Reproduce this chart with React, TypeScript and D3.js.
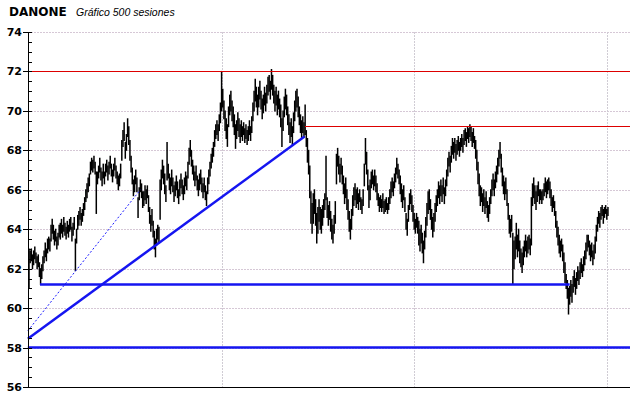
import React, { useEffect, useRef } from 'react';
import * as d3 from 'd3';

// daily lows / highs, 500 sessions
const lows: number[] = [
  61.0, 62.3, 62.4, 62.0, 62.2, 62.5, 62.3, 62.0, 62.1, 61.6,
  61.2, 61.5, 61.9, 62.3, 62.6, 62.4, 62.8, 63.0, 62.9, 63.4,
  63.8, 63.5, 63.2, 63.4, 63.0, 63.2, 63.6, 63.5, 63.8, 63.6,
  63.9, 63.7, 63.5, 63.8, 63.6, 63.9, 64.0, 63.4, 63.7, 64.0,
  61.9, 63.3, 64.0, 64.2, 64.5, 64.2, 64.4, 64.7, 65.0, 65.4,
  65.6, 65.9, 66.2, 66.8, 67.0, 66.9, 67.1, 66.8, 64.8, 66.3,
  66.6, 66.9, 66.5, 66.2, 66.6, 66.3, 66.7, 66.9, 66.5, 66.8,
  67.1, 66.7, 66.4, 66.7, 67.0, 66.6, 66.3, 66.0, 66.2, 66.6,
  67.5, 68.2, 68.5, 67.6, 68.0, 68.7, 68.3, 67.5, 66.9, 66.3,
  65.7, 65.9, 66.3, 65.9, 64.6, 65.5, 65.9, 65.6, 65.1, 65.2,
  65.5, 65.3, 65.6, 64.9, 64.3, 63.9, 64.2, 63.6, 63.0, 62.6,
  63.2, 63.5, 63.3, 64.5, 66.0, 66.6, 66.3, 65.8, 65.4, 66.5,
  66.6, 66.0, 65.8, 66.2, 65.9, 65.4, 65.7, 66.0, 65.6, 65.3,
  65.7, 66.1, 65.8, 65.5, 65.8, 66.2, 66.0, 66.6, 67.3, 67.7,
  67.2, 66.8, 66.5, 66.2, 66.5, 66.0, 65.7, 66.0, 66.3, 65.9,
  65.6, 65.9, 65.5, 65.2, 65.8, 66.3, 66.7, 67.1, 67.4, 67.7,
  68.2, 68.6, 68.8, 68.5, 69.0, 69.4, 70.0, 70.2, 69.6, 69.0,
  68.6, 68.2, 69.2, 69.8, 70.0, 69.5, 69.2, 68.8, 68.1, 68.6,
  69.0, 68.7, 68.4, 68.7, 68.5, 68.8, 68.4, 68.6, 68.3, 68.5,
  68.8, 68.5, 68.9, 69.5, 70.0, 70.5, 70.2, 69.8, 70.2, 70.6,
  70.1, 69.6, 69.9, 70.3, 70.0, 70.4, 70.8, 71.0, 70.6, 71.1,
  70.8, 70.4, 70.0, 70.3, 69.8, 70.1, 69.7, 69.2, 68.2, 69.0,
  69.7, 70.1, 69.8, 69.3, 68.8, 68.4, 68.7, 68.3, 68.9, 69.5,
  70.0, 70.2, 69.7, 69.3, 68.9, 68.6, 68.9, 68.7, 68.8, 68.2,
  67.4, 66.8, 65.6, 64.3, 63.8, 64.3, 64.8, 64.2, 63.3, 63.8,
  64.4, 64.0, 63.8, 64.2, 64.6, 65.0, 65.5, 64.6, 64.2, 64.5,
  63.9, 63.5, 63.3, 63.8, 64.3, 66.3, 67.2, 66.8, 66.4, 66.8,
  66.3, 65.8, 65.3, 65.6, 65.0, 64.5, 63.9, 63.5, 64.0, 64.7,
  65.2, 65.5, 65.1, 65.3, 65.0, 65.4, 65.0, 64.8, 65.2, 66.2,
  67.3, 66.8, 66.0, 65.1, 65.5, 66.1, 66.3, 66.0, 66.2, 65.9,
  65.5, 65.2, 64.9, 65.1, 64.9, 65.1, 64.8, 64.9, 65.0, 64.8,
  65.0, 65.3, 65.6, 65.9, 65.7, 66.1, 66.4, 66.8, 66.6, 66.3,
  65.8, 65.4, 65.1, 65.5, 64.9, 64.0, 63.7, 64.4, 65.0, 65.3,
  64.9, 64.4, 64.0, 63.8, 64.1, 63.8, 63.2, 62.9, 63.3, 62.8,
  62.3, 63.0, 63.6, 64.2, 64.8, 65.0, 64.5, 64.0, 63.6, 63.9,
  64.4, 64.9, 65.2, 65.6, 65.3, 65.7, 65.4, 65.8, 65.3, 65.7,
  66.2, 66.7, 67.2, 66.9, 67.4, 67.8, 67.6, 67.9, 67.5, 67.8,
  68.0, 67.7, 68.0, 68.2, 67.9, 68.3, 68.5, 68.2, 68.6, 68.4,
  68.7, 68.5, 68.2, 68.4, 68.1, 67.6, 67.0, 66.3, 65.7, 65.2,
  65.4, 64.9, 65.2, 64.8, 65.1, 64.6, 64.4, 64.8, 65.3, 65.7,
  66.0, 65.7, 66.1, 66.4, 66.8, 67.2, 67.6, 66.9, 66.2, 65.8,
  65.5, 65.8, 65.2, 64.5, 63.8, 63.6, 63.9, 61.2, 62.0, 62.5,
  63.0, 62.6, 62.9, 62.3, 62.1, 61.8, 62.2, 62.6, 62.9, 62.6,
  62.8, 63.0, 62.7, 63.2, 65.2, 65.6, 65.3, 65.0, 65.4, 65.7,
  65.3, 65.5, 65.3, 65.5, 65.7, 65.9, 65.6, 65.8, 66.0, 65.6,
  65.2, 64.9, 65.1, 64.7, 64.1, 63.6, 63.2, 62.8, 62.6, 62.9,
  62.4, 61.8, 61.3, 61.0, 60.5, 59.7, 60.2, 60.6, 60.3, 60.8,
  61.1, 60.7, 61.0, 61.4, 61.2, 61.5, 61.8, 61.6, 61.9, 62.2,
  62.5, 62.9, 63.1, 62.7, 62.4, 62.6, 62.2, 62.5, 62.8, 63.4,
  63.9, 64.3, 64.1, 64.5, 64.7, 64.3, 64.6, 64.8, 64.5, 64.7,
];

const highs: number[] = [
  63.0, 62.9, 63.0, 62.7, 62.9, 63.1, 62.8, 62.6, 62.7, 62.3,
  62.0, 62.2, 62.6, 62.9, 63.3, 63.0, 63.5, 63.6, 63.5, 64.2,
  64.5, 64.2, 63.9, 64.0, 63.6, 63.8, 64.2, 64.3, 64.5, 64.2,
  64.6, 64.3, 64.1, 64.4, 64.2, 64.5, 64.6, 64.1, 64.3, 64.6,
  63.5, 64.0, 64.7, 64.9, 65.1, 64.8, 65.0, 65.3, 65.6, 66.0,
  66.3, 66.6, 66.8, 67.4, 67.6, 67.5, 67.7, 67.4, 66.9, 66.9,
  67.2, 67.6, 67.1, 66.9, 67.3, 66.9, 67.3, 67.5, 67.2, 67.4,
  67.7, 67.3, 67.0, 67.3, 67.6, 67.2, 66.9, 66.7, 66.8, 67.3,
  68.5, 69.0, 69.4, 68.4, 68.8, 69.6, 69.2, 68.5, 67.7, 67.1,
  66.5, 66.7, 67.0, 66.6, 65.6, 66.1, 66.5, 66.3, 65.9, 65.9,
  66.2, 66.0, 66.2, 65.7, 65.1, 64.7, 65.0, 64.4, 63.9, 63.5,
  64.0, 64.2, 64.1, 66.5, 67.0, 67.5, 67.2, 66.8, 66.2, 68.4,
  67.3, 66.8, 66.6, 67.0, 66.6, 66.2, 66.4, 66.7, 66.4, 66.0,
  66.5, 66.8, 66.5, 66.2, 66.6, 66.9, 66.7, 67.4, 68.1, 68.5,
  68.0, 67.5, 67.2, 66.9, 67.2, 66.7, 66.5, 66.8, 67.0, 66.6,
  66.3, 66.6, 66.2, 65.9, 66.6, 67.0, 67.4, 67.8, 68.1, 68.4,
  69.0, 69.3, 69.5, 69.3, 69.8, 70.4, 72.0, 71.1, 70.5, 70.0,
  69.6, 69.3, 70.2, 70.8, 71.0, 70.5, 70.2, 69.8, 69.3, 69.5,
  69.9, 69.6, 69.3, 69.5, 69.2, 69.4, 69.1, 69.3, 69.0, 69.2,
  69.5, 69.2, 69.7, 70.4, 71.0, 71.6, 71.2, 70.8, 71.2, 71.5,
  71.0, 70.6, 70.8, 71.2, 70.9, 71.3, 71.7, 71.8, 71.5, 72.1,
  71.8, 71.3, 71.0, 71.2, 70.8, 71.0, 70.6, 70.3, 69.6, 70.0,
  70.7, 71.1, 70.8, 70.2, 69.8, 69.4, 69.6, 69.2, 69.9, 70.5,
  71.0, 71.1, 70.7, 70.2, 69.8, 69.5, 69.7, 69.4, 70.3, 69.0,
  68.6, 68.0, 67.2, 65.9, 65.3, 65.8, 66.0, 65.5, 64.8, 65.1,
  65.5, 65.1, 65.0, 65.2, 65.5, 65.8, 67.7, 65.6, 65.2, 65.4,
  64.9, 64.5, 64.2, 64.7, 65.4, 67.8, 68.1, 67.7, 67.3, 67.6,
  67.2, 66.7, 66.3, 66.6, 66.0, 65.5, 64.9, 64.5, 65.0, 65.7,
  66.1, 66.3, 66.0, 66.1, 65.8, 66.0, 65.6, 65.5, 66.0, 67.3,
  68.6, 67.9, 67.0, 66.2, 66.5, 66.9, 67.0, 66.7, 67.0, 66.7,
  66.3, 65.8, 65.6, 65.7, 65.5, 65.8, 65.4, 65.5, 65.6, 65.3,
  65.6, 66.0, 66.4, 66.6, 66.4, 66.8, 67.1, 67.6, 67.3, 67.0,
  66.7, 66.3, 66.0, 66.2, 65.6, 64.8, 64.5, 65.2, 65.8, 66.0,
  65.7, 65.2, 64.8, 64.5, 64.8, 64.6, 64.4, 64.0, 64.2, 63.8,
  63.4, 63.9, 64.6, 65.3, 65.9, 66.0, 65.5, 65.0, 64.6, 64.8,
  65.3, 65.7, 66.0, 66.4, 66.2, 66.5, 66.2, 66.6, 66.1, 66.5,
  67.0, 67.6, 67.9, 67.7, 68.2, 68.6, 68.4, 68.6, 68.3, 68.5,
  68.7, 68.4, 68.6, 68.8, 68.6, 69.0, 69.1, 68.9, 69.2, 69.1,
  69.3, 69.2, 68.9, 69.1, 68.7, 68.5, 68.0, 67.4, 66.8, 66.2,
  66.1, 65.8, 66.0, 65.6, 65.9, 65.4, 65.2, 65.6, 66.0, 66.5,
  66.8, 66.5, 66.9, 67.2, 67.6, 68.0, 68.4, 67.8, 67.1, 66.7,
  66.4, 66.6, 66.0, 65.3, 64.7, 64.5, 64.7, 63.8, 63.4, 63.6,
  64.3, 63.7, 64.0, 63.4, 63.0, 62.8, 63.1, 63.4, 63.7, 63.4,
  63.6, 63.7, 63.5, 65.6, 66.3, 66.6, 66.2, 65.9, 66.2, 66.4,
  66.0, 66.0, 65.9, 66.0, 66.3, 66.6, 66.4, 66.5, 66.6, 66.4,
  66.0, 65.6, 65.7, 65.4, 64.9, 64.4, 64.1, 63.7, 63.4, 63.5,
  63.2, 62.8, 62.3, 61.7, 61.4, 61.0, 61.1, 61.4, 61.2, 61.6,
  61.9, 61.5, 61.8, 62.1, 61.9, 62.3, 62.5, 62.2, 62.6, 62.9,
  63.3, 63.7, 63.7, 63.4, 63.2, 63.3, 62.9, 63.2, 63.6, 64.2,
  64.6, 64.9, 64.8, 65.1, 65.2, 65.0, 65.1, 65.2, 65.0, 65.1,
];

const yTicks = [56, 58, 60, 62, 64, 66, 68, 70, 72, 74];
const xGridSessions = [166, 332, 498];

// drawn lines: [session, price] pairs
const redLines: [number, number][][] = [
  [[-1, 72], [518, 72]],
  [[238, 69.2], [518, 69.2]],
];
const blueLines: [number, number][][] = [
  [[9.5, 61.2], [466, 61.2]],
  [[-1, 58], [518, 58]],
  [[-1, 58.45], [237.5, 68.7]],
];
const dashedLine: [number, number][] = [[-1, 58.85], [96, 66.0]];

const App: React.FC = () => {
  const ref = useRef<SVGSVGElement | null>(null);

  useEffect(() => {
    if (!ref.current) return;
    const svg = d3.select(ref.current);
    svg.selectAll('*').remove();

    const left = 28, right = 630, top = 32, bottom = 387;

    const x = d3.scaleLinear().domain([0, 518]).range([29, right]);
    const y = d3.scaleLinear().domain([56, 74]).range([bottom, top]);

    // title
    svg.append('text')
      .attr('x', 9).attr('y', 16)
      .style('font-family', 'DejaVu Sans, Verdana, sans-serif')
      .style('font-weight', 'bold')
      .style('font-size', '12px')
      .text('DANONE');
    svg.append('text')
      .attr('x', 76).attr('y', 16)
      .style('font-family', 'Liberation Sans, Arial, sans-serif')
      .style('font-style', 'italic')
      .style('font-size', '10.5px')
      .text('Gráfico 500 sesiones');

    // dotted grid
    svg.append('g')
      .selectAll('line')
      .data(yTicks.filter(t => t > 56))
      .enter()
      .append('line')
      .attr('x1', left).attr('x2', right)
      .attr('y1', d => Math.round(y(d)) + 0.5).attr('y2', d => Math.round(y(d)) + 0.5)
      .attr('stroke', '#d6c8d6')
      .attr('stroke-dasharray', '2,1');
    svg.append('g')
      .selectAll('line')
      .data(xGridSessions)
      .enter()
      .append('line')
      .attr('x1', d => Math.round(x(d)) + 0.5).attr('x2', d => Math.round(x(d)) + 0.5)
      .attr('y1', top).attr('y2', bottom)
      .attr('stroke', '#d0ccd4')
      .attr('stroke-dasharray', '2,1');

    // price bars
    svg.append('g')
      .selectAll('line')
      .data(lows.map((l, i) => ({ i, l, h: highs[i] })))
      .enter()
      .append('line')
      .attr('x1', d => x(d.i)).attr('x2', d => x(d.i))
      .attr('y1', d => y(d.l) + 0.5).attr('y2', d => y(d.h) - 0.5)
      .attr('stroke', '#000')
      .attr('stroke-width', 1.5);

    const line = d3.line<[number, number]>().x(d => x(d[0])).y(d => y(d[1]));

    svg.append('g')
      .selectAll('path')
      .data(redLines)
      .enter()
      .append('path')
      .attr('d', d => line(d))
      .attr('stroke', '#dd0000')
      .attr('stroke-width', 1)
      .attr('shape-rendering', 'crispEdges')
      .attr('fill', 'none');

    svg.append('path')
      .attr('d', line(dashedLine))
      .attr('stroke', '#1a1aff')
      .attr('stroke-width', 1)
      .attr('stroke-dasharray', '2,2')
      .attr('fill', 'none');

    svg.append('g')
      .selectAll('path')
      .data(blueLines)
      .enter()
      .append('path')
      .attr('d', d => line(d))
      .attr('stroke', '#1515f0')
      .attr('stroke-width', 2.5)
      .attr('fill', 'none');

    // axes
    svg.append('line')
      .attr('x1', left + 0.5).attr('x2', left + 0.5)
      .attr('y1', top).attr('y2', bottom)
      .attr('stroke', '#000');
    svg.append('line')
      .attr('x1', left).attr('x2', right)
      .attr('y1', bottom + 0.5).attr('y2', bottom + 0.5)
      .attr('stroke', '#000');

    const minor = d3.range(56, 74.01, 0.5).filter(v => v % 2 !== 0);
    svg.append('g')
      .selectAll('line')
      .data(minor)
      .enter()
      .append('line')
      .attr('x1', left).attr('x2', left + 4)
      .attr('y1', d => Math.round(y(d)) + 0.5).attr('y2', d => Math.round(y(d)) + 0.5)
      .attr('stroke', '#000');

    const ticks = svg.append('g');
    ticks.selectAll('line')
      .data(yTicks)
      .enter()
      .append('line')
      .attr('x1', left - 5).attr('x2', left + 4)
      .attr('y1', d => Math.round(y(d)) + 0.5).attr('y2', d => Math.round(y(d)) + 0.5)
      .attr('stroke', '#000');
    ticks.selectAll('text')
      .data(yTicks)
      .enter()
      .append('text')
      .attr('x', 22)
      .attr('y', d => y(d) + 4)
      .attr('text-anchor', 'end')
      .style('font-family', 'DejaVu Sans, Verdana, sans-serif')
      .style('font-weight', 'bold')
      .style('font-size', '11px')
      .text(d => d);
  }, []);

  return (
    <svg
      ref={ref}
      width={640}
      height={398}
      style={{ position: 'absolute', left: 0, top: 0, background: '#fff' }}
    />
  );
};

export default App;
